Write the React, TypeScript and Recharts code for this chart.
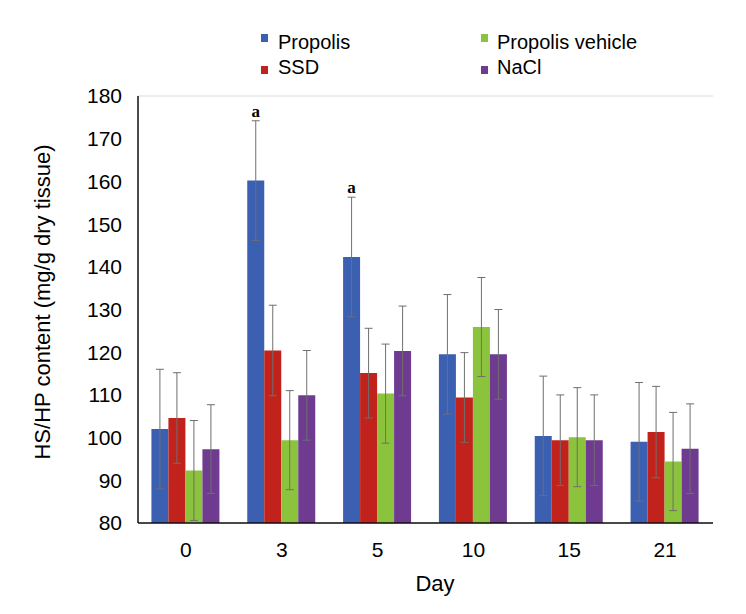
import React from 'react';
import {
  BarChart,
  Bar,
  XAxis,
  YAxis,
  CartesianGrid,
  ErrorBar,
  Legend,
  LabelList,
  Label,
} from 'recharts';

// ---- data ----
const days = ['0', '3', '5', '10', '15', '21'];
const propolis = [102.0, 160.2, 142.3, 119.5, 100.4, 99.0];
const propolisErr = [14.0, 14.0, 14.0, 14.0, 14.0, 13.9];
const ssd = [104.6, 120.4, 115.1, 109.4, 99.4, 101.3];
const ssdErr = [10.6, 10.6, 10.5, 10.5, 10.6, 10.7];
const vehicle = [92.3, 99.4, 110.3, 125.9, 100.1, 94.4];
const vehicleErr = [11.7, 11.6, 11.6, 11.6, 11.6, 11.5];
const nacl = [97.3, 109.9, 120.3, 119.5, 99.4, 97.4];
const naclErr = [10.4, 10.5, 10.5, 10.5, 10.6, 10.5];
const propolisMarks = ['', 'a', 'a', '', '', ''];
const yTicks = [80, 90, 100, 110, 120, 130, 140, 150, 160, 170, 180];

const seriesNames = ['Propolis', 'SSD', 'Propolis vehicle', 'NaCl'];
const colors = ['#3B60B1', '#C1221C', '#8CC33C', '#6E3B90'];

const data = days.map((d, i) => ({
  day: d,
  propolis: propolis[i],
  propolisErr: propolisErr[i],
  ssd: ssd[i],
  ssdErr: ssdErr[i],
  vehicle: vehicle[i],
  vehicleErr: vehicleErr[i],
  nacl: nacl[i],
  naclErr: naclErr[i],
  mark: propolisMarks[i],
  markErr: propolisErr[i],
}));

const FONT = '"Liberation Sans", Arial, Helvetica, sans-serif';
const ERR_COLOR = '#6f6f6f';

const LegendContent = () => {
  const items = [
    { name: seriesNames[0], color: colors[0], sx: 261, sy: 34, tx: 278, ty: 49 },
    { name: seriesNames[1], color: colors[1], sx: 261, sy: 66, tx: 278, ty: 74 },
    { name: seriesNames[2], color: colors[2], sx: 481, sy: 34, tx: 497, ty: 49 },
    { name: seriesNames[3], color: colors[3], sx: 481, sy: 66, tx: 497, ty: 74 },
  ];
  return (
    <svg width={746} height={90} style={{ display: 'block' }}>
      {items.map((it) => (
        <g key={it.name}>
          <rect x={it.sx} y={it.sy} width={7} height={8} fill={it.color} />
          <text x={it.tx} y={it.ty} fontFamily={FONT} fontSize={20} fill="#000">
            {it.name}
          </text>
        </g>
      ))}
    </svg>
  );
};

const MarkLabel = (props: any) => {
  const { x, y, width, height, value, index } = props;
  if (!value) return null;
  const v = propolis[index];
  const pxPerUnit = height / (v - 80);
  const errTop = y - propolisErr[index] * pxPerUnit;
  return (
    <text
      x={x + width / 2}
      y={errTop - 4}
      textAnchor="middle"
      fontFamily='"Liberation Serif", "Times New Roman", serif'
      fontWeight="bold"
      fontSize={17}
      fill="#000"
    >
      {value}
    </text>
  );
};

export default function App() {
  return (
    <div style={{ position: 'absolute', left: 0, top: 0, width: 746, height: 614, background: '#fff' }}>
      <BarChart
        width={746}
        height={614}
        data={data}
        margin={{ top: 96, right: 33, left: 0, bottom: 0 }}
        barCategoryGap="14%"
        barGap={0}
      >
        <CartesianGrid vertical={false} stroke="#dcdcdc" strokeWidth={1} />
        <XAxis
          dataKey="day"
          xAxisId="main"
          height={91}
          tickLine={false}
          tickSize={6}
          tickMargin={13}
          axisLine={{ stroke: '#111', strokeWidth: 1.5 }}
          tick={{ fontSize: 21, fill: '#000', fontFamily: FONT }}
        >
          <Label
            content={() => (
              <text x={435} y={591} textAnchor="middle" fontFamily={FONT} fontSize={22} fill="#000">
                Day
              </text>
            )}
          />
        </XAxis>
        <XAxis
          dataKey="day"
          xAxisId="top"
          orientation="top"
          height={0}
          tick={false}
          tickLine={false}
          axisLine={{ stroke: '#111', strokeWidth: 1.5 }}
        >
          <Label
            content={() => (
              <text x={298} y={125} fontFamily={FONT} fontSize={20} fill="#000">
                ANOVA <tspan fontStyle="italic">F</tspan>(15, 36)=4.5915
              </text>
            )}
          />
        </XAxis>
        <YAxis
          yAxisId="left"
          width={138}
          domain={[80, 180]}
          ticks={yTicks}
          interval={0}
          tickLine={false}
          tickSize={6}
          tickMargin={10}
          axisLine={{ stroke: '#111', strokeWidth: 1.5 }}
          tick={{ fontSize: 21, fill: '#000', fontFamily: FONT }}
        >
          <Label
            content={() => (
              <text
                x={50}
                y={302}
                transform="rotate(-90 50 302)"
                textAnchor="middle"
                fontFamily={FONT}
                fontSize={22}
                fill="#000"
              >
                HS/HP content (mg/g dry tissue)
              </text>
            )}
          />
        </YAxis>
        <YAxis
          yAxisId="right"
          orientation="right"
          width={0}
          domain={[80, 180]}
          ticks={yTicks}
          tick={false}
          tickLine={false}
          axisLine={{ stroke: '#111', strokeWidth: 1.5 }}
        />
        <Legend
          layout="horizontal"
          align="center"
          verticalAlign="middle"
          wrapperStyle={{ top: 0, left: 0, width: 746, height: 90 }}
          content={() => <LegendContent />}
        />
        <Bar dataKey="propolis" name={seriesNames[0]} fill={colors[0]} xAxisId="main" yAxisId="left" isAnimationActive={false}>
          <ErrorBar dataKey="propolisErr" stroke={ERR_COLOR} strokeWidth={1} width={4} />
          <LabelList dataKey="mark" content={MarkLabel} />
        </Bar>
        <Bar dataKey="ssd" name={seriesNames[1]} fill={colors[1]} xAxisId="main" yAxisId="left" isAnimationActive={false}>
          <ErrorBar dataKey="ssdErr" stroke={ERR_COLOR} strokeWidth={1} width={4} />
        </Bar>
        <Bar dataKey="vehicle" name={seriesNames[2]} fill={colors[2]} xAxisId="main" yAxisId="left" isAnimationActive={false}>
          <ErrorBar dataKey="vehicleErr" stroke={ERR_COLOR} strokeWidth={1} width={4} />
        </Bar>
        <Bar dataKey="nacl" name={seriesNames[3]} fill={colors[3]} xAxisId="main" yAxisId="left" isAnimationActive={false}>
          <ErrorBar dataKey="naclErr" stroke={ERR_COLOR} strokeWidth={1} width={4} />
        </Bar>
      </BarChart>
    </div>
  );
}
